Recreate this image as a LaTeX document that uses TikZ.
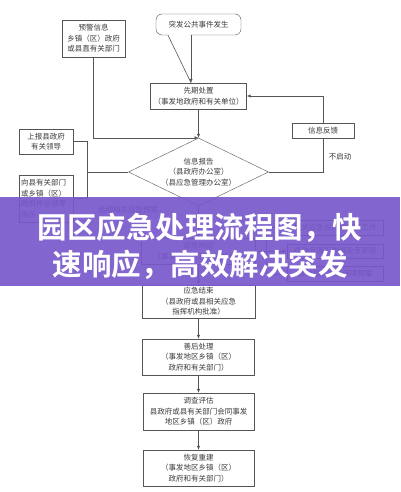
\documentclass[tikz,border=0pt]{standalone}
\usepackage{fontspec}
\newfontfamily\cjk{Noto Sans CJK SC}
\newfontfamily\cjkbold{Noto Sans CJK SC Bold}
\usetikzlibrary{
    arrows.meta,
    shapes.geometric,
    calc
}
\definecolor{linegray}{RGB}{85,85,85}
\definecolor{textgray}{RGB}{60,60,60}
\definecolor{bannerpurple}{RGB}{121,88,204}
\tikzset {
    box/.style = {draw = linegray, fill = white, inner sep = 1pt, align = center,
        text = textgray, font = \cjk\fontsize{7.5}{10.5}\selectfont},
    leftbox/.style = {box, align = left},
    decision/.style = {diamond, draw = linegray, fill = white, inner sep = 0pt,
        minimum width = 140pt, minimum height = 68pt},
    note/.style = {inner sep = 0pt, text = textgray, align = center,
        font = \cjk\fontsize{7.5}{10.5}\selectfont},
    wire/.style = {draw = linegray, line width = 0.6pt},
    arrowed/.style = {wire, -{Latex[length = 4pt, width = 3.5pt]}},
    banner/.style = {fill = bannerpurple, fill opacity = 0.92},
    title/.style = {text = white, align = center,
        font = \cjkbold\fontsize{29.5}{37}\selectfont}
}
\begin{document}
\begin{tikzpicture}[x = 1pt, y = -1pt]
    \useasboundingbox (0, 0) rectangle (400, 492);
    \fill [white] (0, 0) rectangle (400, 492);
    % top row
    \node (yujing) [box, minimum width = 63pt, minimum height = 37pt] at (93.5, 38.5)
        {预警信息\\乡镇（区）政府\\或县直有关部门};
    \node (tufa) [box, rounded corners = 6pt, minimum width = 85pt, minimum height = 21pt]
        at (198.5, 24.5) {突发公共事件发生};
    \node (xianqi) [box, minimum width = 96pt, minimum height = 26pt] at (198.5, 96)
        {先期处置\\（事发地政府和有关单位）};
    % callout pointer
    \coordinate (tip) at ($(xianqi.north) + (-7.5, 0)$);
    \coordinate (tailleft) at ($(tufa.south) + (-30.5, 0)$);
    \coordinate (tailright) at ($(tufa.south) + (-7.5, 0)$);
    \fill [white] ($(tailleft) + (0.6, -1)$) -- ($(tailright) + (-0.6, -1)$)
        -- ($(tailright) + (-0.6, 2)$) -- ($(tailleft) + (1.6, 2)$) -- cycle;
    \draw [wire] (tailleft) -- (tip);
    \draw [arrowed] (tailright) -- (tip);
    % information report
    \node (baogao) [decision] at (198.5, 172) {};
    \node [note] at (baogao) {信息报告\\（县政府办公室）\\（县应急管理办公室）};
    \node (fankui) [box, minimum width = 62pt, minimum height = 15pt] at (323, 130.5)
        {信息反馈};
    \node (buqidong) [note] at (340, 157) {不启动};
    \node (shangbao) [box, minimum width = 54pt, minimum height = 25pt] at (46, 141.5)
        {上报县政府\\有关领导};
    \node (xiangxian) [leftbox, minimum width = 54pt, minimum height = 47pt, text width = 50pt]
        at (46, 198.5) {向县有关部门\\或乡镇（区）\\政府传达领导\\指示};
    \draw [arrowed] (yujing.south) |- (baogao.north);
    \draw [arrowed] (xianqi.south) -- (baogao.north);
    \draw [wire] (baogao.east) -| (fankui.south);
    \draw [arrowed] (fankui.north) |- (xianqi.east);
    \coordinate (split) at (87, 172);
    \draw [wire] (baogao.west) -- (split);
    \draw [wire] (split) |- (shangbao.east);
    \draw [wire] (split) |- (xiangxian.east);
    % response
    \node (qidong) [note] at (128, 210) {启动相关应急预案};
    \node (xiangying) [box, minimum width = 114pt, minimum height = 26pt] at (198.5, 251)
        {应急响应\\（事发地政府和有关单位）};
    \node (zhihui) [box, minimum width = 96pt, minimum height = 15pt] at (335, 227.5)
        {相关应急指挥部开展工作};
    \node (zhuanjia) [box, minimum width = 96pt, minimum height = 14pt] at (335, 251)
        {县政府派工作组及专家组};
    \node (baozhang) [box, minimum width = 96pt, minimum height = 15pt] at (335, 274)
        {启动相关应急保障预案};
    \coordinate (bus) at (266, 251);
    \draw [arrowed] (baogao.south) -- (xiangying.north);
    \draw [wire] (xiangying.east) -- (bus);
    \draw [arrowed] (bus) |- (zhihui.west);
    \draw [arrowed] (bus) -- (zhuanjia.west);
    \draw [arrowed] (bus) |- (baozhang.west);
    % closing steps
    \node (jieshu) [box, minimum width = 113pt, minimum height = 33pt] at (198.5, 301.5)
        {应急结束\\（县政府或县相关应急\\指挥机构批准）};
    \node (shanhou) [box, minimum width = 112pt, minimum height = 36pt] at (198.5, 357)
        {善后处理\\（事发地区乡镇（区）\\政府和有关部门）};
    \node (diaocha) [box, minimum width = 111pt, minimum height = 37pt] at (198.5, 411.5)
        {调查评估\\县政府或县有关部门会同事发\\地区乡镇（区）政府};
    \node (huifu) [box, minimum width = 111pt, minimum height = 36pt] at (198.5, 468)
        {恢复重建\\（事发地区乡镇（区）\\政府和有关部门）};
    \draw [arrowed] (xiangying.south) -- (jieshu.north);
    \draw [arrowed] (jieshu.south) -- (shanhou.north);
    \draw [arrowed] (shanhou.south) -- (diaocha.north);
    \draw [arrowed] (diaocha.south) -- (huifu.north);
    % title banner
    \fill [banner] (0, 197) rectangle (400, 286);
    \node (headline) [title] at (200, 246) {园区应急处理流程图，快\\速响应，高效解决突发};
\end{tikzpicture}
\end{document}
